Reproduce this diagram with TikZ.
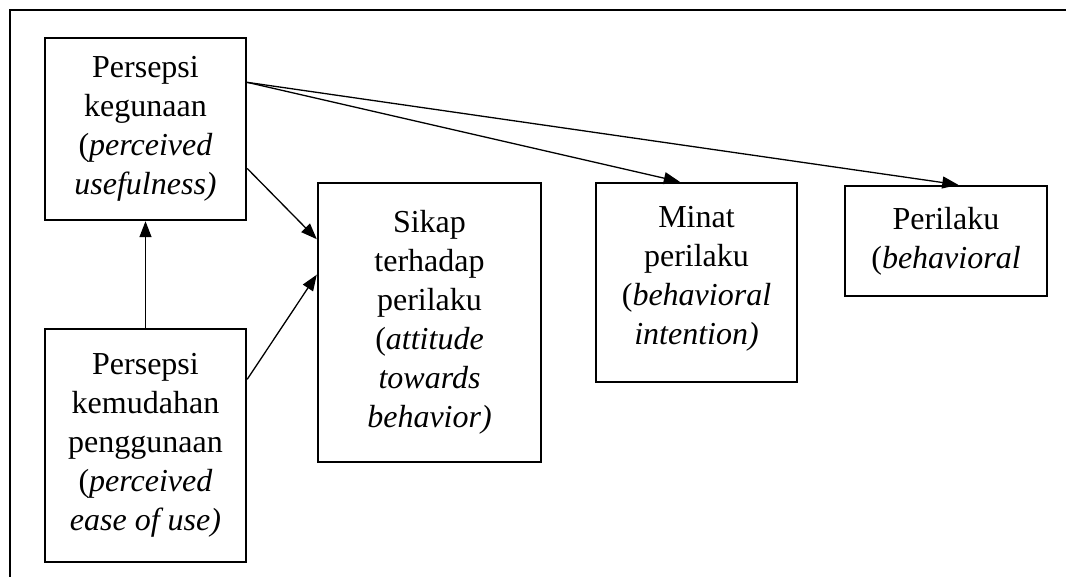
\documentclass[tikz,border=0pt]{standalone}
\usepackage{fontspec}
\setmainfont{Liberation Serif}
\usetikzlibrary{arrows.meta,calc}
\tikzset{
  boxnode/.style={draw, line width=2.4pt, inner sep=0pt, align=center,
    font=\fontsize{32}{39}\selectfont},
  conn/.style={line width=1.3pt, -{Triangle[length=16pt,width=12pt]}},
  frame/.style={line width=2.6pt}
}
\begin{document}
\begin{tikzpicture}[x=1pt,y=-1pt]
\useasboundingbox (0,0) rectangle (1066,577);
\draw[frame] (1066,10) -- (10,10) -- (10,577);

\node[boxnode, minimum width=201pt, minimum height=182pt] (pu) at (145.5,129)
  {Persepsi\\kegunaan\\(\textit{perceived}\\\textit{usefulness)}};
\node[boxnode, minimum width=201pt, minimum height=233pt] (peou) at (145.5,445.5)
  {Persepsi\\kemudahan\\penggunaan\\(\textit{perceived}\\\textit{ease of use)}};
\node[boxnode, minimum width=223pt, minimum height=279pt] (sk) at (429.5,322.5)
  {Sikap\\terhadap\\perilaku\\(\textit{attitude}\\\textit{towards}\\\textit{behavior)}};
\node[boxnode, minimum width=201pt, minimum height=199pt, text depth=14pt] (mi) at (696.5,282.5)
  {Minat\\perilaku\\(\textit{behavioral}\\\textit{intention)}};
\node[boxnode, minimum width=202pt, minimum height=110pt] (pe) at (946,241)
  {Perilaku\\(\textit{behavioral}};

\coordinate (puA) at ($(pu.north east)!0.247!(pu.south east)$);
\coordinate (puB) at ($(pu.north east)!0.714!(pu.south east)$);
\coordinate (peouA) at ($(peou.north east)!0.219!(peou.south east)$);
\coordinate (skA) at ($(sk.north west)!0.204!(sk.south west)$);
\coordinate (skB) at ($(sk.north west)!0.33!(sk.south west)$);
\coordinate (miA) at ($(mi.north west)!0.418!(mi.north east)$);
\coordinate (peA) at ($(pe.north west)!0.56!(pe.north east)$);

\draw[conn] (peou.north) -- (pu.south);
\draw[conn] (puB) -- (skA);
\draw[conn] (peouA) -- (skB);
\draw[conn] (puA) -- (miA);
\draw[conn] (puA) -- (peA);
\end{tikzpicture}
\end{document}
